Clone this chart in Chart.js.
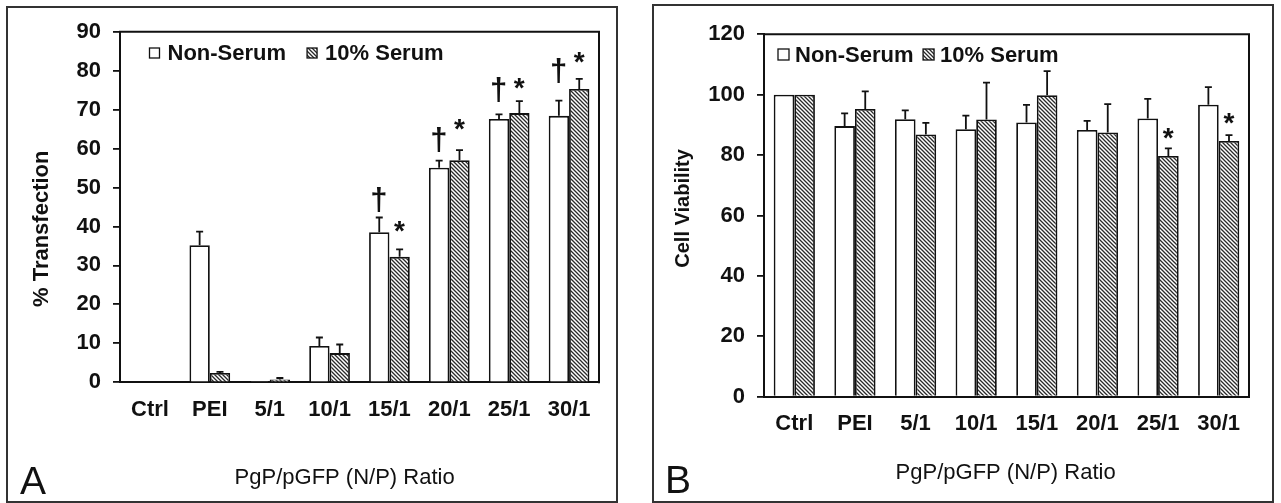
<!DOCTYPE html>
<html>
<head>
<meta charset="utf-8">
<script src="https://cdn.jsdelivr.net/npm/chart.js@4.4.1/dist/chart.umd.min.js"></script>
<style>
  html, body { margin: 0; padding: 0; background: #fff; width: 1281px; height: 503px; overflow: hidden; }
  canvas { position: absolute; }
  #chartA { left: 6px; top: 6px; }
  #chartB { left: 652px; top: 4px; }
</style>
</head>
<body>
<canvas id="chartA" width="612" height="497"></canvas>
<canvas id="chartB" width="622" height="499"></canvas>
<script>
const ratios = ['Ctrl', 'PEI', '5/1', '10/1', '15/1', '20/1', '25/1', '30/1'];

// A: % transfection
const transNonSerum   = [0.2, 35.2, 0.1, 9.3, 38.5, 55.1, 67.6, 68.4];
const transSerum      = [0.2, 2.4, 0.7, 7.5, 32.2, 57.0, 69.1, 75.3];
const transNonSerumSd = [0, 3.5, 0, 2.2, 3.8, 1.8, 1.2, 3.9];
const transSerumSd    = [0, 0.3, 0.4, 2.2, 1.9, 2.6, 3.1, 2.6];
const transDaggerAt   = [null, null, null, null, 46.8, 62.2, 75.0, 80.0];
const transStarAt     = [null, null, null, null, 40.0, 66.2, 76.7, 83.4];
const transAxis = { min: 0, max: 90, step: 10 };

// B: cell viability
const viabNonSerum   = [100, 89.6, 91.9, 88.6, 90.8, 88.3, 92.1, 96.7];
const viabSerum      = [100, 95.3, 86.8, 91.8, 99.8, 87.5, 79.7, 84.7];
const viabNonSerumSd = [0, 4.2, 2.9, 4.5, 5.8, 3.0, 6.5, 5.8];
const viabSerumSd    = [0, 5.8, 3.9, 12.2, 8.0, 9.4, 2.5, 1.9];
const viabStarAt     = [null, null, null, null, null, null, 87.1, 92.1];
const viabAxis = { min: 0, max: 120, step: 20 };

const FONT = '"Liberation Sans", Arial, sans-serif';
const INK = '#111';

// diagonal hatch for the serum bars
const hatch = (() => {
  const c = document.createElement('canvas');
  c.width = 4; c.height = 4;
  const g = c.getContext('2d');
  g.fillStyle = '#fff';
  g.fillRect(0, 0, 4, 4);
  g.strokeStyle = '#2a2a2a';
  g.lineWidth = 1.3;
  g.beginPath();
  g.moveTo(-1, -1); g.lineTo(5, 5);
  g.moveTo(-1, 3); g.lineTo(1, 5);
  g.moveTo(3, -1); g.lineTo(5, 1);
  g.stroke();
  return g.createPattern(c, 'repeat');
})();

// draw a glyph with its ink box centred on (cx, cy)
function glyphAt(ctx, text, cx, cy) {
  const m = ctx.measureText(text);
  const w = m.actualBoundingBoxLeft + m.actualBoundingBoxRight;
  ctx.fillText(text, cx + m.actualBoundingBoxLeft - w / 2,
    cy + (m.actualBoundingBoxAscent - m.actualBoundingBoxDescent) / 2);
}

const errorBars = {
  id: 'errorBars',
  afterDatasetsDraw(chart) {
    const { ctx, scales: { y } } = chart;
    ctx.save();
    ctx.strokeStyle = INK;
    ctx.lineWidth = 1.8;
    chart.data.datasets.forEach((ds, i) => {
      chart.getDatasetMeta(i).data.forEach((bar, j) => {
        const sd = ds.sd[j];
        if (!sd) return;
        const top = y.getPixelForValue(ds.data[j] + sd);
        ctx.beginPath();
        ctx.moveTo(bar.x, bar.y);
        ctx.lineTo(bar.x, top);
        ctx.moveTo(bar.x - 3.5, top);
        ctx.lineTo(bar.x + 3.5, top);
        ctx.stroke();
      });
    });
    // significance marks
    ctx.fillStyle = INK;
    chart.data.datasets.forEach((ds, i) => {
      if (!ds.markAt) return;
      ctx.font = ds.mark === '†' ? `bold 31px ${FONT}` : `bold 28px ${FONT}`;
      chart.getDatasetMeta(i).data.forEach((bar, j) => {
        const v = ds.markAt[j];
        if (v == null) return;
        glyphAt(ctx, ds.mark, bar.x, y.getPixelForValue(v));
      });
    });
    ctx.restore();
  }
};

const panelDecor = {
  id: 'panelDecor',
  afterDraw(chart, args, opts) {
    const { ctx, chartArea: a, width, height } = chart;
    ctx.save();
    ctx.strokeStyle = '#333';
    ctx.lineWidth = 2;
    ctx.strokeRect(1, 1, width - 2, height - 2);

    ctx.strokeStyle = INK;
    ctx.lineWidth = 2;
    ctx.beginPath();
    ctx.moveTo(a.left - 1, a.top);
    ctx.lineTo(a.right, a.top);
    ctx.lineTo(a.right, a.bottom + 1);
    ctx.stroke();

    // legend inside the plot
    const lg = opts.legend;
    let x = lg.x;
    ctx.font = `bold 22px ${FONT}`;
    ctx.textAlign = 'left';
    ctx.textBaseline = 'middle';
    chart.data.datasets.forEach(ds => {
      ctx.fillStyle = ds.backgroundColor;
      ctx.fillRect(x, lg.y, lg.box, lg.box);
      ctx.strokeStyle = INK;
      ctx.lineWidth = 1.3;
      ctx.strokeRect(x, lg.y, lg.box, lg.box);
      ctx.fillStyle = INK;
      ctx.fillText(ds.label, x + lg.box + lg.gap, lg.y + lg.box / 2 + 1);
      x += lg.box + lg.gap + ctx.measureText(ds.label).width + lg.spacing;
    });

    // axis titles
    ctx.fillStyle = INK;
    ctx.font = opts.yTitleFont;
    ctx.save();
    ctx.translate(opts.yTitleAt[0], opts.yTitleAt[1]);
    ctx.rotate(-Math.PI / 2);
    glyphAt(ctx, opts.yTitle, 0, 0);
    ctx.restore();
    ctx.font = `22px ${FONT}`;
    glyphAt(ctx, opts.xTitle, opts.xTitleAt[0], opts.xTitleAt[1]);

    // panel letter
    ctx.font = `39px ${FONT}`;
    ctx.textBaseline = 'alphabetic';
    ctx.fillText(opts.letter, opts.letterAt[0], opts.letterAt[1]);
    ctx.restore();
  }
};

function makeChart(id, cfg) {
  const tickFont = { family: FONT, size: 22, weight: 'bold' };
  return new Chart(document.getElementById(id), {
    type: 'bar',
    data: {
      labels: ratios,
      datasets: [
        {
          label: 'Non-Serum', data: cfg.nonSerum, sd: cfg.nonSerumSd,
          mark: '†', markAt: cfg.daggerAt,
          backgroundColor: '#fff', borderColor: INK, borderWidth: 1.8,
          categoryPercentage: 0.68, barPercentage: 1
        },
        {
          label: '10% Serum', data: cfg.serum, sd: cfg.serumSd,
          mark: '*', markAt: cfg.starAt,
          backgroundColor: hatch, borderColor: INK, borderWidth: 1.8,
          categoryPercentage: 0.68, barPercentage: 1
        }
      ]
    },
    options: {
      responsive: false,
      animation: false,
      layout: { padding: cfg.padding },
      plugins: {
        legend: { display: false },
        tooltip: { enabled: false },
        panelDecor: cfg.decor
      },
      scales: {
        x: {
          grid: { display: false, drawTicks: false },
          border: { color: INK, width: 2 },
          ticks: { color: INK, font: tickFont, padding: cfg.xPad, maxRotation: 0 },
          afterFit: s => { s.height = cfg.xHeight; }
        },
        y: {
          min: cfg.axis.min, max: cfg.axis.max,
          grid: { drawOnChartArea: false, drawTicks: true, tickLength: 7, color: INK, lineWidth: 1.8 },
          border: { color: INK, width: 2 },
          ticks: { stepSize: cfg.axis.step, color: INK, font: tickFont, padding: 12 },
          afterFit: s => { s.width = cfg.yWidth; }
        }
      }
    },
    plugins: [errorBars, panelDecor]
  });
}

makeChart('chartA', {
  nonSerum: transNonSerum, serum: transSerum,
  nonSerumSd: transNonSerumSd, serumSd: transSerumSd,
  daggerAt: transDaggerAt, starAt: transStarAt,
  axis: transAxis,
  padding: { top: 25.7, right: 19, left: 0, bottom: 0 },
  yWidth: 114, xHeight: 120.7, xPad: 14,
  decor: {
    legend: { x: 143.5, y: 42, box: 10, gap: 8, spacing: 21 },
    yTitle: '% Transfection', yTitleFont: `bold 22px ${FONT}`, yTitleAt: [34, 223],
    xTitle: 'PgP/pGFP (N/P) Ratio', xTitleAt: [339, 472],
    letter: 'A', letterAt: [14, 487.5]
  }
});

makeChart('chartB', {
  nonSerum: viabNonSerum, serum: viabSerum,
  nonSerumSd: viabNonSerumSd, serumSd: viabSerumSd,
  daggerAt: null, starAt: viabStarAt,
  axis: viabAxis,
  padding: { top: 30.3, right: 25, left: 0, bottom: 0 },
  yWidth: 112, xHeight: 106.3, xPad: 14,
  decor: {
    legend: { x: 126, y: 45, box: 11, gap: 6, spacing: 9.5 },
    yTitle: 'Cell Viability', yTitleFont: `bold 20px ${FONT}`, yTitleAt: [31.6, 204],
    xTitle: 'PgP/pGFP (N/P) Ratio', xTitleAt: [354, 469],
    letter: 'B', letterAt: [13, 489.3]
  }
});
</script>
</body>
</html>
